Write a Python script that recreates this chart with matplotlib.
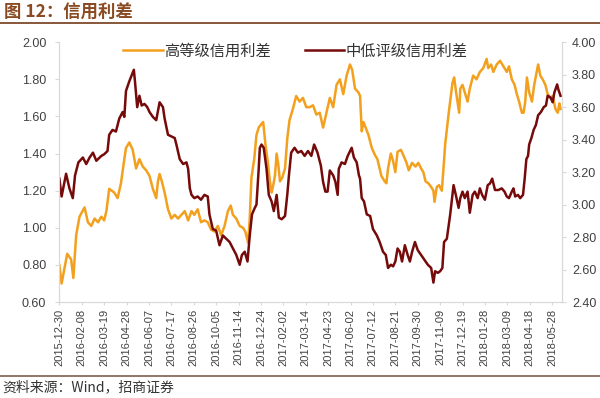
import numpy as np
import pandas as pd
import matplotlib
matplotlib.use('Agg')
import matplotlib.pyplot as plt
import matplotlib.dates as mdates
from matplotlib.lines import Line2D

plt.rcParams['font.family'] = ['Liberation Sans', 'Noto Sans CJK SC', 'DejaVu Sans']

START = pd.Timestamp('2015-12-30')

# 高等级信用利差 (left axis), day offsets from 2015-12-30
HIGH_DAYS = [0, 4, 14, 21, 25, 30, 36, 45, 51, 57, 63, 69, 75, 80, 84, 89, 98, 104, 110, 116,
             119, 125, 131, 137, 143, 149, 155, 161, 167, 173, 176, 179, 183, 188, 194, 200, 206, 212, 218, 224,
             230, 236, 241, 247, 253, 259, 265, 271, 277, 283, 289, 295, 301, 306, 310, 316, 322, 328, 332, 337,
             340, 343, 348, 352, 356, 361, 364, 368, 372, 376, 379, 382, 385, 388, 391, 394, 398, 403, 407, 411,
             417, 423, 429, 435, 441, 447, 453, 459, 465, 471, 477, 483, 489, 495, 501, 507, 513, 519, 523, 528,
             534, 537, 540, 543, 547, 552, 558, 564, 568, 572, 575, 581, 584, 587, 592, 596, 600, 604, 610, 616,
             620, 624, 630, 636, 641, 646, 650, 654, 659, 664, 668, 670, 674, 678, 683, 686, 689, 695, 702, 705,
             709, 714, 716, 720, 724, 729, 733, 739, 745, 751, 757, 763, 766, 771, 775, 781, 787, 793, 799, 803,
             808, 813, 817, 821, 826, 829, 832, 835, 839, 844, 848, 855, 859, 863, 868, 872, 877, 881, 886, 890,
             893, 895]
HIGH_VALUES = [0.80, 0.70, 0.86, 0.83, 0.73, 0.96, 1.06, 1.11, 1.03, 1.01, 1.05, 1.03, 1.06, 1.04, 1.09, 1.21, 1.19, 1.16, 1.24, 1.37,
               1.43, 1.46, 1.42, 1.32, 1.37, 1.33, 1.31, 1.28, 1.21, 1.16, 1.25, 1.29, 1.25, 1.19, 1.10, 1.05, 1.07, 1.05, 1.07, 1.09,
               1.04, 1.09, 1.07, 1.10, 1.03, 1.04, 1.03, 0.99, 0.98, 1.01, 0.96, 1.01, 1.09, 1.12, 1.07, 1.05, 1.01, 1.00, 0.98, 0.92,
               1.05, 1.27, 1.37, 1.50, 1.54, 1.56, 1.57, 1.45, 1.36, 1.25, 1.19, 1.23, 1.28, 1.40, 1.34, 1.25, 1.27, 1.32, 1.48, 1.58,
               1.64, 1.71, 1.68, 1.70, 1.65, 1.65, 1.66, 1.61, 1.62, 1.54, 1.62, 1.70, 1.65, 1.77, 1.80, 1.72, 1.82, 1.88, 1.85, 1.75,
               1.73, 1.71, 1.52, 1.57, 1.54, 1.50, 1.43, 1.39, 1.37, 1.32, 1.28, 1.25, 1.24, 1.32, 1.40, 1.36, 1.30, 1.41, 1.42, 1.38,
               1.35, 1.31, 1.35, 1.33, 1.35, 1.32, 1.30, 1.25, 1.24, 1.22, 1.20, 1.14, 1.22, 1.23, 1.20, 1.32, 1.45, 1.61, 1.78, 1.81,
               1.72, 1.62, 1.75, 1.77, 1.73, 1.68, 1.75, 1.82, 1.80, 1.84, 1.86, 1.91, 1.86, 1.88, 1.84, 1.88, 1.90, 1.87, 1.84, 1.87,
               1.80, 1.77, 1.72, 1.68, 1.62, 1.62, 1.68, 1.81, 1.73, 1.68, 1.77, 1.88, 1.82, 1.80, 1.77, 1.72, 1.70, 1.71, 1.64, 1.62,
               1.67, 1.64]

# 中低评级信用利差 (right axis)
LOW_DAYS = [0, 4, 12, 18, 24, 28, 34, 42, 48, 54, 60, 66, 75, 80, 86, 89, 95, 101, 107, 113,
            116, 119, 125, 133, 135, 139, 143, 147, 152, 157, 161, 167, 173, 179, 185, 188, 194, 200, 206, 209,
            215, 221, 227, 230, 233, 236, 241, 247, 253, 259, 265, 268, 274, 280, 286, 292, 298, 304, 310, 316,
            322, 326, 331, 336, 340, 344, 349, 352, 356, 358, 361, 365, 370, 374, 379, 383, 388, 392, 397, 403,
            407, 410, 414, 420, 426, 432, 438, 444, 450, 455, 461, 467, 471, 475, 479, 483, 489, 493, 497, 499,
            504, 510, 515, 522, 526, 531, 535, 537, 540, 544, 549, 555, 560, 567, 572, 578, 583, 587, 592, 596,
            600, 604, 608, 612, 617, 622, 626, 630, 635, 640, 646, 652, 658, 664, 668, 671, 676, 680, 684, 687,
            692, 698, 704, 708, 713, 716, 720, 724, 729, 733, 738, 742, 747, 751, 755, 760, 765, 769, 773, 778,
            784, 790, 795, 799, 803, 808, 811, 814, 819, 823, 828, 831, 834, 837, 839, 843, 847, 851, 855, 860,
            865, 869, 872, 877, 881, 884, 889, 891, 895]
LOW_VALUES = [3.16, 3.05, 3.19, 3.10, 3.04, 3.18, 3.26, 3.29, 3.25, 3.29, 3.32, 3.27, 3.30, 3.31, 3.33, 3.43, 3.46, 3.45, 3.53, 3.57,
              3.54, 3.70, 3.76, 3.83, 3.76, 3.60, 3.67, 3.61, 3.62, 3.60, 3.57, 3.54, 3.52, 3.63, 3.60, 3.53, 3.43, 3.42, 3.41, 3.37,
              3.28, 3.25, 3.26, 3.22, 3.10, 3.06, 3.04, 3.05, 3.03, 3.06, 3.05, 2.94, 2.85, 2.84, 2.75, 2.81, 2.79, 2.77, 2.73, 2.69,
              2.63, 2.69, 2.71, 2.65, 2.81, 2.94, 2.98, 3.00, 3.22, 3.35, 3.37, 3.35, 3.22, 3.06, 3.02, 2.96, 3.06, 2.92, 2.91, 2.93,
              3.06, 3.18, 3.32, 3.35, 3.32, 3.33, 3.30, 3.33, 3.30, 3.37, 3.32, 3.24, 3.14, 3.08, 3.08, 3.21, 3.18, 3.14, 3.06, 3.22,
              3.26, 3.25, 3.30, 3.35, 3.29, 3.26, 3.18, 3.16, 3.04, 3.02, 2.94, 2.93, 2.85, 2.81, 2.77, 2.71, 2.69, 2.61, 2.63, 2.62,
              2.65, 2.73, 2.71, 2.65, 2.75, 2.69, 2.65, 2.71, 2.77, 2.72, 2.69, 2.66, 2.63, 2.61, 2.52, 2.59, 2.58, 2.59, 2.61, 2.77,
              2.79, 2.94, 3.12, 3.06, 2.98, 3.04, 3.08, 3.04, 3.08, 2.95, 3.06, 3.08, 3.04, 3.10, 3.06, 3.03, 3.12, 3.13, 3.16, 3.09,
              3.09, 3.10, 3.08, 3.05, 3.04, 3.08, 3.10, 3.05, 3.06, 3.04, 3.06, 3.16, 3.28, 3.30, 3.37, 3.41, 3.46, 3.49, 3.55, 3.57,
              3.60, 3.61, 3.67, 3.66, 3.63, 3.69, 3.74, 3.71, 3.67]

HIGH_LABEL = '高等级信用利差'
LOW_LABEL = '中低评级信用利差'
TITLE = '图 12：信用利差'
SOURCE = '资料来源：Wind，招商证券'

ORANGE = '#F2A01E'
MAROON = '#760A0A'
GREY = '#D9D9D9'
TXT = '#404040'

high_dates = START + pd.to_timedelta(HIGH_DAYS, unit='D')
low_dates = START + pd.to_timedelta(LOW_DAYS, unit='D')

fig = plt.figure(figsize=(6, 3.98), dpi=100)
ax = fig.add_axes([0.098, 0.241, 0.839, 0.653])
ax2 = ax.twinx()

l1, = ax.plot(high_dates, HIGH_VALUES, color=ORANGE, lw=1.8, label=HIGH_LABEL)
l2, = ax2.plot(low_dates, LOW_VALUES, color=MAROON, lw=1.8, label=LOW_LABEL)

ax.set_ylim(0.6, 2.0)
ax.set_yticks(np.arange(0.6, 2.01, 0.2))
ax.yaxis.set_major_formatter(matplotlib.ticker.FormatStrFormatter('%.2f'))
ax2.set_ylim(2.4, 4.0)
ax2.set_yticks(np.arange(2.4, 4.01, 0.2))
ax2.yaxis.set_major_formatter(matplotlib.ticker.FormatStrFormatter('%.2f'))

ax.set_xlim(START - pd.Timedelta(days=1), START + pd.Timedelta(days=898))
ax.set_xticks(pd.date_range(START, '2018-05-28', freq='40D'))
ax.xaxis.set_major_formatter(mdates.DateFormatter('%Y-%m-%d'))
for lab in ax.get_xticklabels():
    lab.set_rotation(90)

for a in (ax, ax2):
    a.spines['top'].set_visible(False)
    for s in ('left', 'right', 'bottom'):
        a.spines[s].set_color(GREY)
ax.tick_params(axis='y', colors=GREY, labelcolor=TXT, labelsize=9, length=3, pad=6)
ax2.tick_params(axis='y', colors=GREY, labelcolor=TXT, labelsize=9, length=3, pad=4)
ax.tick_params(axis='x', colors=GREY, labelcolor=TXT, labelsize=8, length=2, pad=3)

ax.legend([l1, l2], [HIGH_LABEL, LOW_LABEL], loc='upper center', bbox_to_anchor=(0.47, 1.045),
          ncol=2, frameon=False, fontsize=11, handlelength=2.6, columnspacing=2.2,
          handletextpad=0.1, labelcolor='#333333')

# header / footer
fig.text(0.006, 0.968, TITLE, fontsize=12.5, fontweight='bold', color='#8A4B22',
         family=['Noto Sans CJK SC'], va='center', ha='left')
fig.add_artist(Line2D([0, 1], [0.941, 0.941], transform=fig.transFigure, color='#7E4A2A', lw=1.3))
fig.add_artist(Line2D([0, 1], [0.055, 0.055], transform=fig.transFigure, color='#8C6A5A', lw=1.3))
fig.text(0.004, 0.028, SOURCE, fontsize=10, color='#333333',
         family=['Noto Sans CJK SC'], va='center', ha='left')

plt.savefig('out.png', dpi=100)
